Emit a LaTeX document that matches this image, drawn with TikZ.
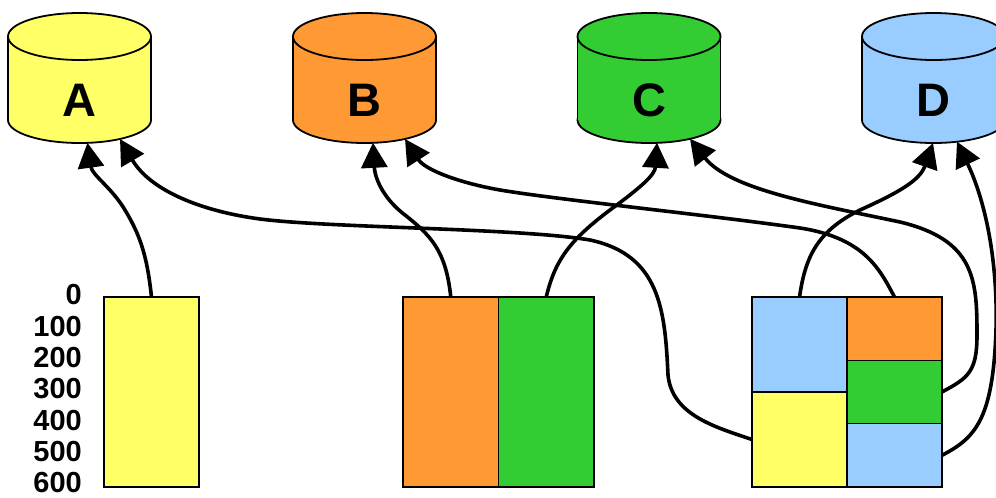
\documentclass[tikz,border=0pt]{standalone}
\usepackage{fontspec}
\setmainfont{Liberation Sans}
\usetikzlibrary{arrows.meta}
\definecolor{dbYellow}{RGB}{255,255,102}
\definecolor{dbOrange}{RGB}{255,153,51}
\definecolor{dbGreen}{RGB}{51,204,51}
\definecolor{dbBlue}{RGB}{153,204,255}

% drum: name, centre x, fill colour, letter
\newcommand\drum[4]{%
  \filldraw[fill=#3, drumline] (#2,120) ellipse [x radius=71.5pt, y radius=23pt];
  \fill[#3] ({#2-71.5},36.5) rectangle ({#2+71.5},120);
  \draw[drumline] ({#2-71.5},36.5) -- ({#2-71.5},120)
                  ({#2+71.5},36.5) -- ({#2+71.5},120);
  \filldraw[fill=#3, drumline] (#2,36.5) ellipse [x radius=71.5pt, y radius=23.5pt];
  \node[drumlabel] (#1) at (#2,100) {#4};
}

\begin{document}
\begin{tikzpicture}[x=1pt,y=-1pt,
  drumline/.style={draw=black,line width=1.8pt},
  drumlabel/.style={font=\fontsize{47}{47}\selectfont\bfseries,inner sep=0pt},
  cell/.style={draw=black,line width=1.5pt,inner sep=0pt,outer sep=0pt},
  scalelabel/.style={anchor=east,inner sep=0pt,font=\fontsize{29}{29}\selectfont\bfseries},
  feed/.style={line width=3.6pt,-{Triangle[length=25pt,width=26pt]}}]
\useasboundingbox (0,0) rectangle (996,498);
\clip (0,0) rectangle (996,498);

% databases
\drum{A}{79.5}{dbYellow}{A}
\drum{B}{364.5}{dbOrange}{B}
\drum{C}{649}{dbGreen}{C}
\drum{D}{933.5}{dbBlue}{D}

% inlets on the drum bottoms
\coordinate (A-in1) at (87.5,142.8);
\coordinate (A-in2) at (120,139);
\coordinate (B-in1) at (373,142.8);
\coordinate (B-in2) at (405,139);
\coordinate (C-in1) at (657,142.8);
\coordinate (C-in2) at (690,138.8);
\coordinate (D-in1) at (933,143);
\coordinate (D-in2) at (957,141.7);

% scale
\foreach \v [count=\k from 0] in {0,100,200,300,400,500,600}
  \node[scalelabel] (s\v) at (82,{295+31.33*\k}) {\v};

% layout 1: one column
\node[cell, fill=dbYellow, minimum width=95pt, minimum height=190pt] (ybar) at (151.5,392) {};

% layout 2: two columns
\node[cell, fill=dbOrange, minimum width=95.5pt, minimum height=190pt] (obar) at (450.75,392) {};
\node[cell, fill=dbGreen, minimum width=95.5pt, minimum height=190pt] (gbar) at (546.25,392) {};

% layout 3: mixed blocks
\node[cell, fill=dbBlue, minimum width=95pt, minimum height=95pt] (mBlueL) at (799.5,344.5) {};
\node[cell, fill=dbYellow, minimum width=95pt, minimum height=95pt] (mYellow) at (799.5,439.5) {};
\node[cell, fill=dbOrange, minimum width=95pt, minimum height=63.3pt] (mOrange) at (894.5,328.65) {};
\node[cell, fill=dbGreen, minimum width=95pt, minimum height=63.3pt] (mGreen) at (894.5,391.95) {};
\node[cell, fill=dbBlue, minimum width=95pt, minimum height=63.4pt] (mBlueR) at (894.5,455.3) {};

% connectors
\draw[feed] (ybar.north) .. controls (147,255) and (140,235) .. (125,210)
            .. controls (112,188) and (92,175) .. (A-in1);
\draw[feed] (mYellow.west) .. controls (715,427) and (672,415) .. (668,375)
            .. controls (665,310) and (660,255) .. (590,240)
            .. controls (520,228) and (330,228) .. (260,219)
            .. controls (200,211) and (150,190) .. (A-in2);
\draw[feed] (obar.north) .. controls (446,250) and (430,235) .. (405,215)
            .. controls (385,200) and (375,180) .. (B-in1);
\draw[feed] (mOrange.north) .. controls (880,270) and (865,238) .. (800,228)
            .. controls (700,214) and (560,200) .. (500,190)
            .. controls (460,183) and (425,170) .. (B-in2);
\draw[feed] (gbar.north) .. controls (555,260) and (570,240) .. (610,210)
            .. controls (640,188) and (655,175) .. (C-in1);
\draw[feed] (mGreen.east) .. controls (968,378) and (977,372) .. (977,335)
            .. controls (977,280) and (975,240) .. (900,222)
            .. controls (820,205) and (730,190) .. (C-in2);
\draw[feed] (mBlueL.north) .. controls (805,260) and (815,232) .. (860,210)
            .. controls (900,192) and (920,180) .. (D-in1);
\draw[feed] (mBlueR.east) .. controls (975,438) and (993,420) .. (996,330)
            .. controls (998,260) and (985,200) .. (D-in2);
\end{tikzpicture}
\end{document}
